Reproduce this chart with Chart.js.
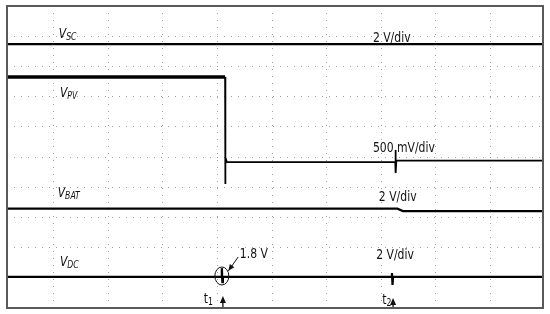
<!DOCTYPE html>
<html>
<head>
<meta charset="utf-8">
<script src="https://cdn.jsdelivr.net/npm/chart.js@4/dist/chart.umd.min.js"></script>
<style>
  html, body { margin: 0; padding: 0; background: #fff; }
  #wrap { width: 550px; height: 314px; }
</style>
</head>
<body>
<div id="wrap"><canvas id="myChart"></canvas></div>
<script>
// time axis in divisions, voltage axis in divisions (10 x 10 grid)
var xRange = [0.14, 9.97];
var yRange = [0, 10];

// V_SC trace
var vscX = [0.14, 9.97];
var vscY = [8.74, 8.74];

// V_PV before the step (noisy, looks thicker)
var vpvHighX = [0.14, 4.14];
var vpvHighY = [7.65, 7.65];

// V_PV step down and after
var vpvLowX = [4.14, 4.14, 4.15, 4.17, 4.22, 7.26, 7.265, 7.27, 7.28, 9.97];
var vpvLowY = [7.65, 4.11, 4.98, 4.84, 4.83, 4.84, 5.23, 4.47, 4.88, 4.88];

// V_BAT
var vbatX = [0.14, 7.3, 7.4, 9.97];
var vbatY = [3.29, 3.29, 3.21, 3.21];

// V_DC with the two small disturbances at t1 and t2
var vdcX = [0.14, 4.07, 4.08, 4.09, 4.1, 7.19, 7.2, 7.21, 7.22, 9.97];
var vdcY = [1.03, 1.03, 1.32, 0.86, 1.03, 1.03, 1.16, 0.76, 1.03, 1.03];

function pts(xs, ys) {
  return xs.map(function(x, i) { return { x: x, y: ys[i] }; });
}

var FONT = '"DejaVu Sans Condensed", "Liberation Sans Narrow", sans-serif';
var SQUEEZE = 0.86; // text looks like a narrow font (Calibri-ish)

// labels: [main, subscript, x, y]  (data units)
var traceLabels = [
  ['V', 'SC', 1.09, 8.94],
  ['V', 'PV', 1.11, 6.99],
  ['V', 'BAT', 1.07, 3.68],
  ['V', 'DC', 1.11, 1.39]
];
var scaleLabels = [
  ['2 V/div', 6.85, 8.81],
  ['500 mV/div', 6.85, 5.17],
  ['2 V/div', 6.96, 3.54],
  ['2 V/div', 6.91, 1.62],
  ['1.8 V', 4.41, 1.66]
];

function text(c, s, x, y, font) {
  c.save();
  c.font = font;
  c.translate(x, y);
  c.scale(SQUEEZE, 1);
  c.fillText(s, 0, 0);
  var w = c.measureText(s).width * SQUEEZE;
  c.restore();
  return w;
}

function drawSub(c, main, sub, x, y, italic) {
  var st = italic ? 'italic ' : '';
  var w = text(c, main, x, y, st + '14px ' + FONT);
  text(c, sub, x + w, y + 2, st + '10px ' + FONT);
}

function arrowUp(c, x, yTip, yBase) {
  c.beginPath();
  c.moveTo(x, yBase);
  c.lineTo(x, yTip + 4);
  c.stroke();
  c.beginPath();
  c.moveTo(x, yTip);
  c.lineTo(x - 3, yTip + 7);
  c.lineTo(x + 3, yTip + 7);
  c.closePath();
  c.fill();
}

var annotations = {
  id: 'annotations',
  afterDatasetsDraw: function(chart) {
    var c = chart.ctx;
    var xs = chart.scales.x, ys = chart.scales.y;
    var a = chart.chartArea;
    c.save();
    c.fillStyle = '#111';
    c.strokeStyle = '#111';
    c.textBaseline = 'alphabetic';

    traceLabels.forEach(function(l) {
      drawSub(c, l[0], l[1], xs.getPixelForValue(l[2]), ys.getPixelForValue(l[3]), true);
    });
    scaleLabels.forEach(function(l) {
      text(c, l[0], xs.getPixelForValue(l[1]), ys.getPixelForValue(l[2]), '14px ' + FONT);
    });

    // t1 / t2 markers
    drawSub(c, 't', '1', xs.getPixelForValue(3.75), ys.getPixelForValue(0.17), false);
    drawSub(c, 't', '2', xs.getPixelForValue(7.02), ys.getPixelForValue(0.13), false);
    c.lineWidth = 1.3;
    arrowUp(c, xs.getPixelForValue(4.1), ys.getPixelForValue(0.4), a.bottom);
    arrowUp(c, xs.getPixelForValue(7.22), ys.getPixelForValue(0.33), a.bottom);

    // circle around the t1 disturbance and the 1.8 V pointer
    c.lineWidth = 1;
    c.beginPath();
    c.ellipse(xs.getPixelForValue(4.08), ys.getPixelForValue(1.06), 7, 9, 0, 0, Math.PI * 2);
    c.stroke();
    var px0 = xs.getPixelForValue(4.38), py0 = ys.getPixelForValue(1.69);
    var px1 = xs.getPixelForValue(4.2), py1 = ys.getPixelForValue(1.23);
    c.beginPath();
    c.moveTo(px0, py0);
    c.lineTo(px1, py1);
    c.stroke();
    var ang = Math.atan2(py1 - py0, px1 - px0);
    c.beginPath();
    c.moveTo(px1, py1);
    c.lineTo(px1 - 7 * Math.cos(ang - 0.4), py1 - 7 * Math.sin(ang - 0.4));
    c.lineTo(px1 - 7 * Math.cos(ang + 0.4), py1 - 7 * Math.sin(ang + 0.4));
    c.closePath();
    c.fill();

    // frame
    c.strokeStyle = '#5a5a5a';
    c.lineWidth = 2;
    c.strokeRect(a.left, a.top, a.right - a.left, a.bottom - a.top);
    c.restore();
  }
};

function trace(xs, ys, width) {
  return {
    data: pts(xs, ys),
    borderColor: '#000',
    borderWidth: width,
    pointRadius: 0,
    tension: 0,
    fill: false
  };
}

var ctx = document.getElementById('myChart').getContext('2d');

var chart = new Chart(ctx, {
  type: 'line',
  data: {
    datasets: [
      trace(vscX, vscY, 2.2),
      trace(vpvHighX, vpvHighY, 3.5),
      trace(vpvLowX, vpvLowY, 1.8),
      trace(vbatX, vbatY, 2.2),
      trace(vdcX, vdcY, 2.2)
    ]
  },
  options: {
    responsive: true,
    maintainAspectRatio: false,
    animation: false,
    layout: { padding: { left: 7, right: 7, top: 6, bottom: 6 } },
    plugins: { legend: { display: false }, tooltip: { enabled: false } },
    scales: {
      x: {
        type: 'linear',
        min: xRange[0],
        max: xRange[1],
        ticks: { display: false, stepSize: 1 },
        grid: { color: '#a0a0a0', lineWidth: 1, drawTicks: false },
        border: { display: false, dash: [1, 6] }
      },
      y: {
        type: 'linear',
        min: yRange[0],
        max: yRange[1],
        ticks: { display: false, stepSize: 1 },
        grid: { color: '#a0a0a0', lineWidth: 1, drawTicks: false },
        border: { display: false, dash: [1, 6] }
      }
    }
  },
  plugins: [annotations]
});
</script>
</body>
</html>
